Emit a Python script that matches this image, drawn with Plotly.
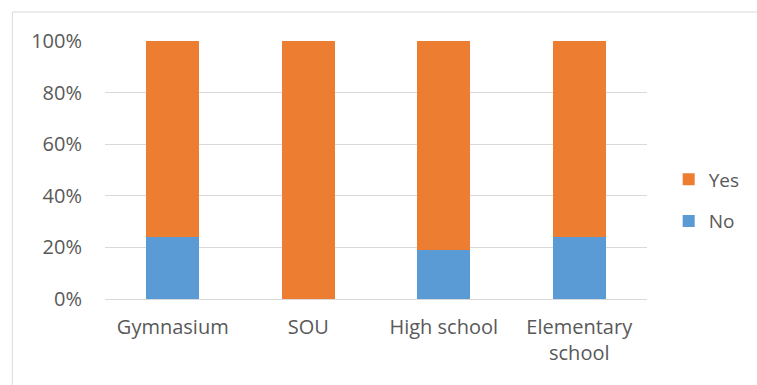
import plotly.graph_objects as go

categories = ["Gymnasium", "SOU", "High school", "Elementary<br>school"]
no_share = [24.2, 0.0, 18.9, 24.0]
yes_share = [75.8, 100.0, 81.1, 76.0]
y_ticks = [0, 20, 40, 60, 80, 100]
y_tick_labels = ["0%", "20%", "40%", "60%", "80%", "100%"]

BLUE = "#5b9bd5"
ORANGE = "#ed7d31"
GRID = "#d9d9d9"
TEXT = "#595959"
FONT = "'Open Sans', Lato, sans-serif"
FS = 20

fig = go.Figure()
fig.add_trace(go.Bar(x=categories, y=no_share, name="No", marker_color=BLUE,
                     marker_line_width=0, legendgroup="no", legendrank=2))
fig.add_trace(go.Bar(x=categories, y=yes_share, name="Yes", marker_color=ORANGE,
                     marker_line_width=0, legendgroup="yes", legendrank=1))

fig.update_layout(
    width=757, height=385,
    barmode="stack", bargap=0.61,
    plot_bgcolor="white", paper_bgcolor="white",
    margin=dict(l=105, r=108, t=41, b=86),
    font=dict(family=FONT, size=FS, color=TEXT),
    legend=dict(x=1.04, y=0.382, xanchor="left", yanchor="middle",
                traceorder="grouped", tracegroupgap=14,
                font=dict(size=19, color=TEXT), itemwidth=30),
    showlegend=True,
)
fig.update_yaxes(range=[0, 100], tickvals=y_ticks, ticktext=y_tick_labels,
                 showgrid=True, gridcolor=GRID, gridwidth=1, zeroline=False,
                 showline=False, ticks="", ticklabelstandoff=22)
fig.update_xaxes(showline=True, linecolor=GRID, linewidth=1, ticks="",
                 ticklabelstandoff=10, tickfont=dict(size=FS, color=TEXT))

# Light frame around the whole chart area
fig.add_shape(type="rect", xref="paper", yref="paper",
              x0=(12 - 105) / 544, x1=2.0, y0=-1.0, y1=(299 - 12) / 258,
              line=dict(color=GRID, width=1), fillcolor="rgba(0,0,0,0)",
              layer="below")

fig.write_html("out.html")
